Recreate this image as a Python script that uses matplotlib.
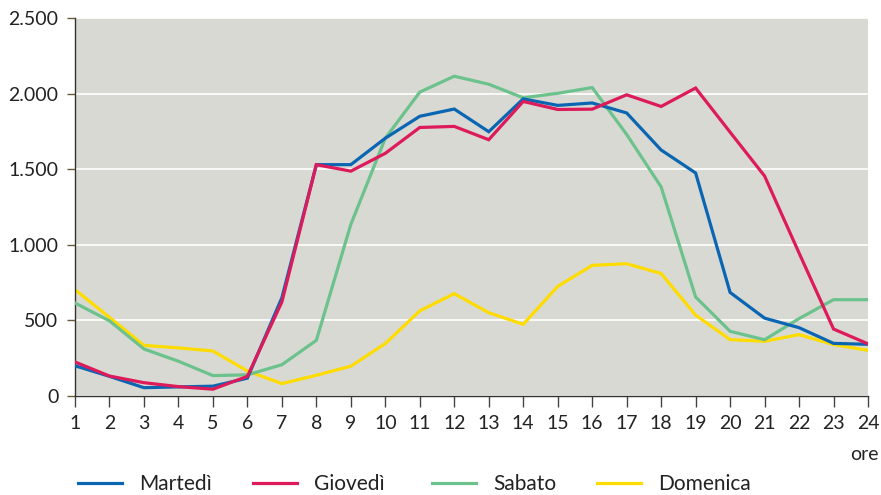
import matplotlib
matplotlib.use("Agg")
import matplotlib.pyplot as plt
from matplotlib.ticker import FuncFormatter

ore = list(range(1, 25))
martedi = [200, 130, 55, 60, 65, 118, 650, 1530, 1530, 1705, 1850, 1898, 1748, 1965,
           1922, 1938, 1872, 1627, 1475, 685, 515, 452, 348, 342]
giovedi = [225, 132, 88, 62, 45, 130, 622, 1530, 1487, 1605, 1776, 1783, 1695, 1948,
           1895, 1897, 1992, 1915, 2037, 1745, 1455, 946, 443, 345]
sabato = [615, 497, 311, 230, 135, 140, 207, 368, 1135, 1705, 2010, 2115, 2062, 1972,
          2002, 2040, 1730, 1383, 655, 428, 372, 512, 637, 637]
domenica = [703, 520, 335, 318, 298, 165, 82, 137, 197, 347, 563, 677, 551, 474,
            725, 864, 875, 810, 535, 373, 362, 406, 340, 302]
yticks = [0, 500, 1000, 1500, 2000, 2500]

series = [("Martedì", martedi, "#0a66b2"),
          ("Giovedì", giovedi, "#dd1a5a"),
          ("Sabato", sabato, "#6cc28c"),
          ("Domenica", domenica, "#ffdc00")]

plt.rcParams['font.family'] = ['Lato', 'DejaVu Sans']

fig = plt.figure(figsize=(8.81, 4.95), dpi=100)
ax = fig.add_axes([75/881, 99/495, 793/881, 378/495])
ax.set_facecolor("#d9d9d3")

zorders = {"Martedì": 4, "Giovedì": 5, "Sabato": 3, "Domenica": 2}
handles = []
for name, vals, col in series:
    h, = ax.plot(ore, vals, color=col, lw=2.3, label=name, zorder=zorders[name],
                 solid_joinstyle="miter")
    handles.append(h)

ax.set_xlim(1, 24)
ax.set_ylim(0, 2500)
ax.set_xticks(ore)
ax.set_yticks(yticks)
ax.yaxis.set_major_formatter(FuncFormatter(lambda v, p: f"{int(v):,}".replace(",", ".")))
ax.grid(axis="y", color="white", lw=1.2, zorder=1)
ax.set_axisbelow(True)

for s in ["top", "right"]:
    ax.spines[s].set_visible(False)
for s in ["left", "bottom"]:
    ax.spines[s].set_color("#333333")
    ax.spines[s].set_linewidth(1.0)

ax.tick_params(axis="x", direction="out", length=8, width=1, color="#444444",
               labelsize=14, pad=6, labelcolor="#222222")
ax.tick_params(axis="y", direction="out", length=6, width=1, color="#6b5a3a",
               labelsize=14, pad=6, labelcolor="#222222")

fig.text(864/881, 1 - 455/495, "ore", ha="center", va="center", fontsize=14, color="#222222")

# legend entries, one per series, placed individually
leg_x = [78, 253, 432, 597]
for h, x in zip(handles, leg_x):
    lg = fig.legend(handles=[h], loc="center left", bbox_to_anchor=(x/881, 1 - 484/495),
                    frameon=False, fontsize=15, handlelength=2.1, handletextpad=0.85,
                    borderpad=0, borderaxespad=0, labelcolor="#222222")

fig.savefig("out.png", dpi=100)
